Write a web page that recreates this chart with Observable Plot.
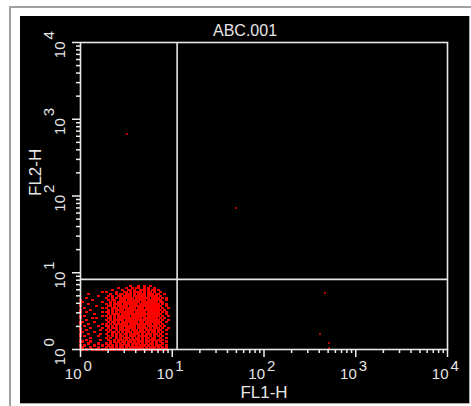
<!DOCTYPE html>
<html>
<head>
<meta charset="utf-8">
<script src="https://cdn.jsdelivr.net/npm/d3@7"></script>
<script src="https://cdn.jsdelivr.net/npm/@observablehq/plot@0.6"></script>
<style>
  html, body { margin: 0; padding: 0; background: #fff; }
  body { width: 471px; height: 406px; overflow: hidden; position: relative; }
  #outer { position: absolute; left: 9px; top: 6px; width: 480px; height: 420px;
           border-left: 2px solid #a0a0a0; border-top: 2px solid #a0a0a0; }
  #panel { position: absolute; left: 20px; top: 16px; width: 449px; height: 387px;
           background: #000; border-right: 1px solid #b0b0b0; border-bottom: 1px solid #b0b0b0; }
  #panel svg { display: block; }
</style>
</head>
<body>
<div id="outer"></div>
<div id="panel"></div>
<script>
// ---- Data ----
const title = "ABC.001";
const xLabel = "FL1-H";
const yLabel = "FL2-H";

// log decades and their exponent labels
const decades = [1, 10, 100, 1000, 10000];
const exponents = ["0", "1", "2", "3", "4"];
const minorTicks = [2,3,4,5,6,7,8,9, 20,30,40,50,60,70,80,90,
                    200,300,400,500,600,700,800,900, 2000,3000,4000,5000,6000,7000,8000,9000];

// quadrant gate positions
const gateX = 11.3;
const gateY = 8.2;

// isolated events outside the main population
const outlierX = [3.2, 49, 464, 403, 517, 517];
const outlierY = [634, 69, 5.5, 1.57, 1.23, 1.03];

// main population as an occupancy bitmap (rows top -> bottom), one cell = one channel bin
const binLogX = 0.0218;   // decades per bin on FL1
const binLogY = 0.026;    // decades per bin on FL2
const clusterRows = [
  "." + "............" + "........" + "....#...#..#..#...." + "......",
  "." + "............" + "......#." + "..#..#.##..#.#..#.." + "......",
  "." + "............" + "...#...." + "#..##.#..###.#.##.#" + "......",
  "." + "..........#." + "#....#.." + ".##.#.####.#.##.#.." + "#.....",
  "." + "...#........" + "..#..#.#" + "#.###.#.####.###.##" + "..#...",
  "." + "........#..." + ".#.#..##" + ".####.######.#####." + "#.....",
  "." + "..#........." + "#..#.#.#" + "######.#######.####" + ".#.#..",
  "#" + ".....#......" + ".#.##..#" + "##.#########.######" + "#..#..",
  "." + "#.........#." + "..#.#.##" + "#########.########." + "##....",
  "#" + "...#........" + "#.#.####" + ".#######.##########" + ".#.#..",
  "#" + ".......#...." + ".##.#.##" + "###.###############" + "#..#..",
  "." + ".#........#." + "#..###.#" + "#######.###.#######" + ".#..#.",
  "#" + "....#......." + ".#.#.###" + "#.#################" + "#.#...",
  "#" + "..#.......#." + "##.#.#.#" + "######.#####.######" + ".#.#..",
  "." + "......#....." + ".#.####." + "###################" + "#..#..",
  "#" + ".#........#." + "#.#.#.##" + "####.#######.######" + ".#..#.",
  "#" + ".....#.#...." + ".##.#.##" + "##########.#######." + "#.#...",
  "." + "..#........." + "#.#.####" + "#.#################" + ".#..#.",
  "#" + "#.....#....." + ".#.##.#." + "########.##.#######" + "#..#..",
  "#" + "...#......#." + "#.#.####" + "###.###########.###" + ".#....",
  "." + ".#......#..." + "##.#.#.#" + "#######.####.#####." + "#.#...",
  "#" + "....#.....#." + ".#.###.#" + "#.#####.#####.#.###" + ".#..#.",
  "#" + "..#......#.." + "#.#..#.#" + "####.###.##.#####.#" + "#..#..",
  "." + "#.....#....." + ".#.##.#." + "#.###.######.#.##.#" + ".#....",
  "#" + "...#.....#.." + "#..#.#.#" + ".##.#####.#.###.##." + "#..#..",
  "#" + ".#......#..." + ".#.#.#.#" + "#.#.###.#####.#.#.#" + ".#....",
  "." + "....#......." + "#.#..#.#" + ".###.#.##.#.##.##.." + "#..#..",
  "#" + "..#......#.." + ".#..#.##" + "#.#.#####.#.#.###.#" + ".#....",
  "#" + "#...#......." + "..#.#.#." + "##.##.#.###.##.#.#." + "#..#..",
  "." + "...#....#..." + "#.#..#.#" + ".#.#.####.#.#.##.#." + ".#....",
  "#" + ".#....#...#." + ".#.#.#.#" + "#.##.#.#.###.#.#.##" + "#..#..",
  "." + "#...#...#..." + "#.##.#.#" + "#.#.#######.#.###.#" + ".#.#..",
  "#" + "#.#..#.##.##" + "#.###.##" + "##########.####.###" + "#.##.."
];

// decode bitmap into events
const cluster = [];
clusterRows.forEach((row, r) => {
  const k = clusterRows.length - 1 - r;
  [...row].forEach((ch, c) => {
    if (ch === "#") cluster.push({x: Math.pow(10, c * binLogX), y: Math.pow(10, k * binLogY)});
  });
});
const outliers = outlierX.map((x, i) => ({x, y: outlierY[i]}));

const lineColor = "#e6e6e6";
const tickColor = "#f0f0f0";
const textColor = "#e6e6e6";
const xMin = decades[0];
const yMin = decades[0];

const chart = Plot.plot({
  width: 449,
  height: 387,
  marginLeft: 60,
  marginRight: 22,
  marginTop: 26,
  marginBottom: 54,
  style: {background: "#000", color: textColor, fontFamily: "'Liberation Sans', Arial, Helvetica, sans-serif", fontSize: "15px"},
  x: {type: "log", domain: [1, 10000], axis: null},
  y: {type: "log", domain: [1, 10000], axis: null},
  marks: [
    Plot.dot(cluster, {x: "x", y: "y", symbol: "square", r: 1.15, fill: "#ff0000", stroke: "none", shapeRendering: "crispEdges"}),
    Plot.dot(outliers, {x: "x", y: "y", symbol: "square", r: 1.15, fill: "#b00000", stroke: "none", shapeRendering: "crispEdges"}),
    Plot.ruleX([gateX], {stroke: lineColor, strokeWidth: 1.6}),
    Plot.ruleY([gateY], {stroke: lineColor, strokeWidth: 1.6}),
    Plot.frame({stroke: lineColor, strokeWidth: 1.6}),
    // x tick labels: "10" + exponent
    Plot.text(decades, {x: d => d, frameAnchor: "bottom", text: () => "10", textAnchor: "end", lineAnchor: "bottom", dx: 1, dy: 29, fill: textColor}),
    Plot.text(decades, {x: d => d, frameAnchor: "bottom", text: (d, i) => exponents[i], textAnchor: "start", lineAnchor: "bottom", dx: 3, dy: 21, fill: textColor}),
    // y tick labels (rotated)
    Plot.text(decades, {y: d => d, frameAnchor: "left", text: () => "10", rotate: -90, textAnchor: "end", lineAnchor: "bottom", dx: -16, dy: -1, fill: textColor}),
    Plot.text(decades, {y: d => d, frameAnchor: "left", text: (d, i) => exponents[i], rotate: -90, textAnchor: "start", lineAnchor: "bottom", dx: -27, dy: -3, fill: textColor}),
    // axis titles and plot title
    Plot.text([xLabel], {frameAnchor: "bottom", lineAnchor: "bottom", dy: 48, fontSize: 17, fill: textColor}),
    Plot.text([yLabel], {frameAnchor: "left", rotate: -90, lineAnchor: "bottom", dx: -40, fontSize: 17, fill: textColor}),
    Plot.text([title], {frameAnchor: "top", lineAnchor: "bottom", dx: -19, dy: -7, fontSize: 16, fill: textColor}),
    // outward tick marks, drawn last
    Plot.ruleX(minorTicks, {x: d => d, y1: 1, y2: 1, insetBottom: -4, stroke: tickColor, strokeWidth: 1.5}),
    Plot.ruleX(decades, {x: d => d, y1: 1, y2: 1, insetBottom: -8, stroke: tickColor, strokeWidth: 1.5}),
    Plot.ruleY(minorTicks, {y: d => d, x1: 1, x2: 1, insetLeft: -4, stroke: tickColor, strokeWidth: 1.5}),
    Plot.ruleY(decades, {y: d => d, x1: 1, x2: 1, insetLeft: -8, stroke: tickColor, strokeWidth: 1.5})
  ]
});
document.getElementById("panel").appendChild(chart);
</script>
</body>
</html>
